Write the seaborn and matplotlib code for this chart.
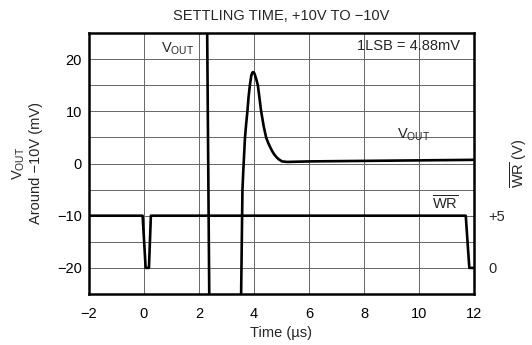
import matplotlib
matplotlib.use("Agg")
import numpy as np
import pandas as pd
import seaborn as sns
import matplotlib.pyplot as plt

# V_OUT trace (mV around -10V); +/-30 = off scale
vout_t = [2.29, 2.38, 3.52, 3.58, 3.61, 3.67, 3.71, 3.76, 3.80, 3.85, 3.90, 3.93,
          3.96, 3.99, 4.02, 4.08, 4.14, 4.20, 4.26, 4.35, 4.44, 4.52, 4.60, 4.67,
          4.74, 4.82, 4.90, 5.02, 5.20, 6.0, 8.0, 10.0, 12.0]
vout_mv = [30, -30, -30, -5, -1.5, 4.8, 7.3, 10, 12.6, 15, 16.8, 17.3,
           17.5, 17.45, 17.2, 16.2, 15, 12.5, 10, 7.2, 5, 3.9, 3, 2.3,
           1.7, 1.2, 0.8, 0.4, 0.3, 0.4, 0.5, 0.6, 0.7]

# WR trace (V)
wr_t = [-2.0, -0.05, 0.06, 0.18, 0.25, 11.70, 11.83, 12.0]
wr_v = [5, 5, 0, 0, 5, 5, 0, 0]

x_ticks = [-2, 0, 2, 4, 6, 8, 10, 12]
y_ticks = [-20, -10, 0, 10, 20]
wr_ticks = [0, 5]
wr_tick_labels = ["0", "+5"]

sns.set_theme(style="white")
plt.rcParams["font.family"] = ["Liberation Sans", "DejaVu Sans"]
plt.rcParams["mathtext.fontset"] = "custom"
plt.rcParams["mathtext.rm"] = "Liberation Sans"
plt.rcParams["mathtext.it"] = "Liberation Sans:italic"

fig = plt.figure(figsize=(5.32, 3.45), dpi=100)
ax = fig.add_axes([89 / 532, 1 - 294 / 345, (474 - 89) / 532, (294 - 33) / 345])

vout = pd.DataFrame({"t": vout_t, "mv": vout_mv})
sns.lineplot(data=vout, x="t", y="mv", sort=False, estimator=None,
             color="black", lw=1.9, ax=ax)

ax.set_xlim(-2, 12)
ax.set_ylim(-25, 25)
ax.set_xticks(x_ticks)
ax.set_yticks(y_ticks)
ax.set_yticks(np.arange(-25, 26, 5), minor=True)
ax.grid(True, which="major", axis="x", color="0.4", lw=0.7)
ax.grid(True, which="both", axis="y", color="0.4", lw=0.7)
ax.tick_params(axis="both", which="both", length=0, labelsize=10.5, colors="black")
ax.tick_params(axis="y", pad=5)
ax.tick_params(axis="x", pad=9)
ax.set_xlabel("Time (µs)", fontsize=10.5, labelpad=4)
ax.set_ylabel("V$_{\\mathrm{OUT}}$\nAround \u221210V (mV)", fontsize=10.5, labelpad=10)
ax.set_title("SETTLING TIME, +10V TO \u221210V", fontsize=10.5, pad=9)
for s in ax.spines.values():
    s.set_linewidth(1.8)
    s.set_color("black")

ax2 = ax.twinx()
wr = pd.DataFrame({"t": wr_t, "v": wr_v})
sns.lineplot(data=wr, x="t", y="v", sort=False, estimator=None,
             color="black", lw=1.9, ax=ax2)
ax2.set_ylim(-2.5, 22.5)
ax2.set_yticks(wr_ticks)
ax2.set_yticklabels(wr_tick_labels)
ax2.tick_params(axis="y", length=0, pad=10, labelsize=10.5)
ax2.set_ylabel("$\\overline{\\mathrm{WR}}$ (V)", fontsize=10.5, labelpad=3)
ax2.set_xlabel("")
for s in ax2.spines.values():
    s.set_visible(False)

ax.text(0.62, 22.0, "V$_{\\mathrm{OUT}}$", fontsize=10.5, ha="left", va="center")
ax.text(11.5, 22.5, "1LSB = 4.88mV", fontsize=10.5, ha="right", va="center")
ax.text(9.2, 5.5, "V$_{\\mathrm{OUT}}$", fontsize=10.5, ha="left", va="center")
ax2.text(10.95, 6.2, "$\\overline{\\mathrm{WR}}$", fontsize=10.5, ha="center", va="center")

fig.savefig("out.png", dpi=100)
